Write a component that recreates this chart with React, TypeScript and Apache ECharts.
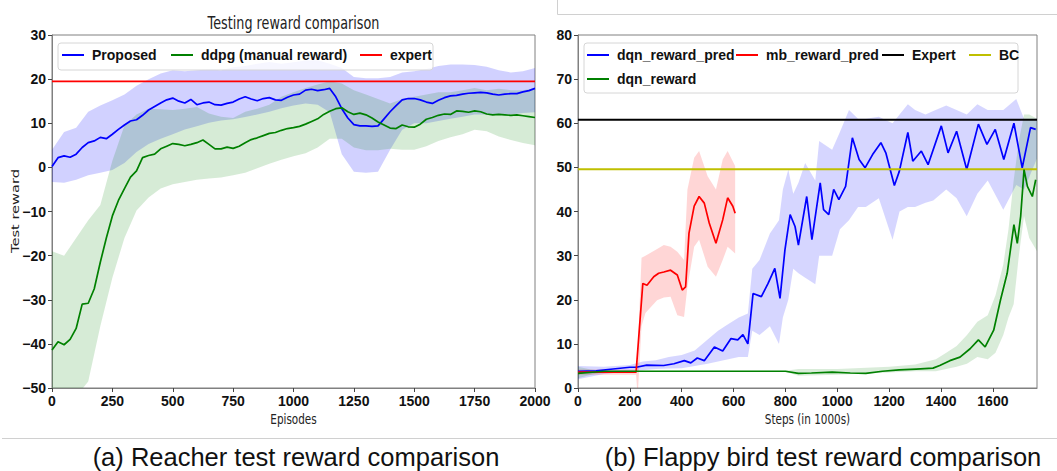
import React, { useEffect, useRef } from "react";
import * as echarts from "echarts";

// ---------- Left chart: Reacher ----------
const leftEpisodes = [0, 25, 50, 75, 100, 125, 150, 175, 200, 225, 250, 275, 300, 325, 350, 375, 400, 425, 450, 475, 500, 525, 550, 575, 600, 625, 650, 675, 700, 725, 750, 775, 800, 825, 850, 875, 900, 925, 950, 975, 1000, 1025, 1050, 1075, 1100, 1125, 1150, 1175, 1200, 1225, 1250, 1275, 1300, 1325, 1350, 1375, 1400, 1425, 1450, 1475, 1500, 1525, 1550, 1575, 1600, 1625, 1650, 1675, 1700, 1725, 1750, 1775, 1800, 1825, 1850, 1875, 1900, 1925, 1950, 1975, 2000];
const proposedReward = [0.2, 2.2, 2.6, 2.3, 3, 4.5, 5.6, 6, 6.8, 6.5, 7.5, 8.6, 9.6, 10.5, 10.8, 11.8, 13, 13.8, 14.6, 15.3, 15.7, 15, 14.6, 15.4, 14.2, 14.6, 14.8, 14.2, 14.1, 14.5, 14.8, 15.5, 16, 15.5, 15.1, 15.6, 15.8, 15.3, 15.2, 15.9, 16.4, 16.6, 17.5, 17.7, 17.4, 17.6, 17.9, 16, 13.3, 11.2, 9.7, 9.4, 9.4, 9.3, 9.4, 11, 12.6, 14, 15.3, 15.6, 15.6, 15.3, 14.8, 14.5, 15.2, 15.8, 16.2, 16.3, 16.6, 16.8, 16.9, 17.0, 16.9, 16.6, 16.4, 16.6, 16.7, 16.7, 17.1, 17.4, 17.9];
const ddpgReward = [-41.4, -39.5, -40.2, -39, -36.5, -31, -30.8, -27.5, -21.5, -16, -11, -7.5, -4.8, -2.2, -0.8, 2.2, 2.7, 3, 4.2, 4.8, 5.4, 5.2, 4.9, 5.2, 5.6, 6.2, 5.2, 4.2, 4.2, 4.6, 4.3, 4.8, 5.6, 6.3, 6.7, 7.2, 7.7, 7.9, 8.4, 8.8, 9.0, 9.3, 9.8, 10.4, 11, 12, 12.7, 13.3, 13.5, 12.6, 12.0, 12.3, 11.9, 11.2, 10.3, 9.6, 8.9, 8.8, 9.6, 9.2, 9.1, 9.8, 10.9, 11.3, 11.8, 12.1, 12.0, 12.8, 12.7, 12.5, 12.8, 12.6, 12.1, 11.9, 12.0, 11.9, 11.8, 11.9, 11.7, 11.5, 11.3];
const expertReacher = 19.5;

const leftBandEpisodes = [0, 50, 100, 150, 200, 250, 300, 350, 400, 450, 500, 550, 600, 650, 700, 750, 800, 850, 900, 950, 1000, 1050, 1100, 1150, 1200, 1250, 1300, 1350, 1400, 1450, 1500, 1550, 1600, 1650, 1700, 1750, 1800, 1850, 1900, 1950, 2000];
const proposedUpper = [4, 8, 9, 12.6, 14, 15.2, 16.5, 18.5, 20, 21.3, 22, 21.8, 22, 22.2, 22, 22.7, 23, 23.5, 23.9, 23.5, 23.8, 24.2, 24.3, 23.5, 22.5, 20.5, 20.2, 20.2, 20.5, 21.5, 21.8, 22.3, 23, 23.3, 23.3, 23.2, 22.8, 22, 21.5, 21.8, 22.5];
const proposedLower = [-3.3, -3.5, -2.8, -1.8, -1.2, -0.6, 1, 3.5, 5.3, 6.5, 7.5, 8.6, 9.3, 10.1, 10.6, 10.9, 11.4, 12, 12.6, 13.4, 14, 14.5, 14.2, 12.5, 3, -1, -1.2, -1, 4, 8.5, 10, 10, 10.5, 11, 11.5, 12, 12, 12, 12, 12.3, 12.5];
const ddpgUpper = [-19, -20, -16, -12, -8.5, 1.5, 9.5, 12, 13.3, 13.2, 13, 13.3, 13.7, 12.2, 11.5, 11.2, 12.6, 13.3, 14.2, 16, 17, 18, 18.8, 19.5, 19, 17.5, 16.5, 15.5, 14.5, 15.5, 16, 16.5, 17, 17, 17.5, 18, 17.5, 17.8, 17.5, 17.5, 18];
const ddpgLower = [-52, -52, -52, -48.5, -36, -25, -16, -9.8, -6.8, -4.8, -3.8, -3.3, -2.8, -2.5, -2.3, -1.8, -1.2, -0.2, 0.8, 1.7, 2.5, 3.2, 4.5, 6.5, 6.5, 4.5, 3.9, 3.9, 4.2, 4, 4, 4.8, 6, 6.8, 7.5, 8.5, 8.2, 7, 6.2, 5.5, 5];

// ---------- Right chart: Flappy bird ----------
const dqnPredSteps = [0, 70, 135, 200, 225, 265, 330, 370, 410, 435, 460, 487, 526, 558, 590, 616, 636, 655, 675, 707, 733, 759, 779, 798, 818, 837, 850, 882, 902, 934, 947, 967, 986, 1006, 1032, 1058, 1084, 1107, 1136, 1168, 1187, 1220, 1239, 1272, 1291, 1324, 1350, 1401, 1427, 1460, 1499, 1544, 1577, 1609, 1642, 1681, 1713, 1745, 1765];
const dqnPredValues = [3.8, 3.9, 4.3, 4.7, 4.7, 5.2, 5.1, 5.5, 6.2, 5.7, 6.8, 6.2, 9.3, 8.4, 11.2, 10.9, 12.1, 10.0, 21.4, 20.7, 23.7, 27.1, 20.3, 31.3, 39.3, 36.6, 32.4, 43.4, 33.6, 46.5, 40.4, 39.3, 45.0, 42.7, 45.7, 56.7, 51.8, 49.9, 52.9, 55.6, 53.3, 45.9, 49.1, 57.9, 51.4, 53.7, 50.6, 59.4, 53.3, 58.2, 49.5, 59.8, 55.2, 58.6, 51.8, 60.0, 49.9, 59.0, 58.6];
const dqnPredBandSteps = [0, 100, 200, 250, 300, 350, 400, 450, 500, 540, 580, 620, 655, 672, 700, 740, 775, 790, 811, 830, 850, 876, 915, 930, 980, 1010, 1045, 1080, 1110, 1160, 1213, 1240, 1272, 1300, 1340, 1370, 1420, 1460, 1499, 1540, 1580, 1640, 1690, 1720, 1770];
const dqnPredUpper = [5, 4.8, 5.2, 6, 6.3, 7, 7.5, 8.5, 11, 13, 14.5, 16, 16.9, 27, 29, 35, 38, 45, 49.5, 44, 46.5, 51, 47, 56, 54, 58, 63, 61, 61, 61.5, 60, 62, 64.3, 63, 62, 62.8, 64, 63, 62, 64.3, 63, 63, 65.5, 61, 61];
const dqnPredLower = [2, 3.2, 3.8, 4, 4.3, 4.4, 4.5, 5, 5.5, 6, 6.5, 7, 7, 13, 12, 14, 10, 16, 20, 27, 26, 25, 23.5, 30, 30, 36, 38, 41, 41, 43, 33.6, 40, 41, 41, 42, 42.5, 45, 43, 38.9, 44, 47, 40.4, 46, 45, 52];

const mbSteps = [0, 224, 250, 266, 292, 311, 331, 357, 383, 402, 415, 428, 448, 467, 487, 506, 532, 558, 577, 597, 606];
const mbValues = [3.6, 3.6, 23.7, 23.3, 25.2, 26.0, 26.3, 26.7, 25.6, 22.2, 22.9, 35.1, 41.2, 43.4, 41.9, 37.4, 32.8, 38.1, 43.1, 41.2, 39.6];
const mbBandSteps = [0, 224, 230, 245, 260, 305, 331, 357, 383, 409, 422, 448, 467, 500, 532, 558, 577, 606];
const mbUpper = [4.2, 4.2, 8, 29.5, 30, 31.5, 32.4, 32, 30.9, 29, 45, 52.2, 53.7, 48, 45, 51.8, 53.7, 50.3];
const mbLower = [3.0, 3.0, -2, 14, 17, 19.9, 20.5, 20.7, 16.5, 16.1, 22.9, 32, 33.6, 27.5, 25.2, 29, 32, 30.5];

const dqnRewardSteps = [0, 100, 200, 300, 400, 500, 600, 700, 800, 850, 900, 980, 1050, 1110, 1174, 1239, 1304, 1369, 1395, 1434, 1473, 1512, 1544, 1570, 1603, 1629, 1655, 1681, 1694, 1707, 1720, 1733, 1752, 1765];
const dqnRewardValues = [3.3, 3.8, 3.8, 3.8, 3.8, 3.8, 3.8, 3.8, 3.8, 3.3, 3.4, 3.6, 3.4, 3.3, 3.8, 4.1, 4.3, 4.5, 5.1, 6.2, 7.0, 8.9, 10.9, 9.3, 13.1, 19.9, 26.0, 37.0, 32.8, 38.9, 49.5, 45.7, 43.4, 47.2];
const dqnRewardBandSteps = [0, 50, 100, 800, 850, 1000, 1200, 1300, 1380, 1420, 1460, 1500, 1540, 1580, 1610, 1640, 1660, 1680, 1700, 1720, 1740, 1770];
const dqnRewardUpper = [4.8, 4.2, 3.9, 3.9, 4.3, 4.3, 4.8, 5.3, 6.5, 8, 9.5, 12, 15, 16.5, 21, 28, 36, 47, 56, 62, 62, 61];
const dqnRewardLower = [2.2, 3.0, 3.7, 3.7, 2.8, 3.0, 3.5, 3.8, 3.8, 4.3, 4.8, 5.5, 7, 6.5, 8, 12, 16, 19, 30, 39, 34, 31];

const expertFlappy = 60.8;
const bcFlappy = 49.6;

const leftTicks = { min: -50, max: 30, interval: 10 };
const rightTicks = { min: 0, max: 80, interval: 10 };

const LIB = "'Liberation Sans', Arial, sans-serif";
const DEJAVU = "'DejaVu Sans', sans-serif";
const SQUISH = 0.73;

const fmt = (v: number) => (v < 0 ? "\u2212" + Math.abs(v) : String(v));

function band(xs: number[], lo: number[], hi: number[], fill: string, xi: number) {
  const data = xs.map((x, i) => [x, lo[i], hi[i]]);
  return {
    type: "custom",
    xAxisIndex: xi,
    yAxisIndex: xi,
    silent: true,
    z: 1,
    data,
    encode: { x: 0, y: [1, 2] },
    renderItem: (params: any, api: any) => {
      if (params.dataIndex !== 0) return null;
      const top = data.map((d) => api.coord([d[0], d[2]]));
      const bot = data.map((d) => api.coord([d[0], d[1]])).reverse();
      const cs = params.coordSys;
      return {
        type: "polygon",
        shape: { points: top.concat(bot) },
        style: { fill },
        clipPath: { type: "rect", shape: { x: cs.x, y: cs.y, width: cs.width, height: cs.height } },
      };
    },
  };
}

function line(name: string, xs: number[], ys: number[], color: string, xi: number, width = 1.7) {
  return {
    type: "line",
    name,
    xAxisIndex: xi,
    yAxisIndex: xi,
    data: xs.map((x, i) => [x, ys[i]]),
    showSymbol: false,
    symbol: "none",
    silent: true,
    z: 3,
    lineStyle: { color, width },
    itemStyle: { color },
  };
}

function legendItem(name: string, left: number, top: number) {
  return {
    data: [name],
    left,
    top,
    padding: 0,
    itemWidth: 22,
    itemHeight: 2,
    icon: "rect",
    selectedMode: false,
    z: 6,
    textStyle: { fontFamily: LIB, fontWeight: "bold", fontSize: 14, lineHeight: 16, color: "#111", padding: [0, 0, 0, 3] },
  };
}

const tickLabel = { fontFamily: LIB, fontWeight: "bold", fontSize: 14, color: "#111", formatter: fmt };

function xAxis(gi: number, max: number, interval: number, showMax: boolean) {
  return {
    type: "value",
    gridIndex: gi,
    min: 0,
    max,
    interval,
    axisLine: { show: true, onZero: false, lineStyle: { color: "#808080", width: 1 } },
    axisTick: { show: true, length: 4, lineStyle: { color: "#444" } },
    axisLabel: { ...tickLabel, margin: 6, showMaxLabel: showMax },
    splitLine: { show: false },
  };
}

function yAxis(gi: number, t: { min: number; max: number; interval: number }) {
  return {
    type: "value",
    gridIndex: gi,
    min: t.min,
    max: t.max,
    interval: t.interval,
    axisLine: { show: true, onZero: false, lineStyle: { color: "#808080", width: 1 } },
    axisTick: { show: true, length: 4, lineStyle: { color: "#444" } },
    axisLabel: { ...tickLabel, margin: 6 },
    splitLine: { show: false },
  };
}

function sqText(text: string, x: number, y: number, fontSize: number, extra: any = {}) {
  return {
    type: "text",
    x,
    y,
    scaleX: SQUISH,
    z: 10,
    style: { text, fontFamily: DEJAVU, fontSize, fill: "#222", align: "center", verticalAlign: "middle" },
    ...extra,
  };
}

export default function App() {
  const ref = useRef<HTMLDivElement>(null);
  useEffect(() => {
    if (!ref.current) return;
    const chart = echarts.init(ref.current, undefined, { renderer: "svg" });
    const option: any = {
      animation: false,
      backgroundColor: "#fff",
      grid: [
        { left: 52, top: 35, width: 483, height: 353, show: true, borderColor: "#808080", borderWidth: 1, backgroundColor: "transparent" },
        { left: 578, top: 35, width: 459, height: 353, show: true, borderColor: "#808080", borderWidth: 1, backgroundColor: "transparent" },
      ],
      xAxis: [xAxis(0, 2000, 250, true), xAxis(1, 1770, 200, false)],
      yAxis: [yAxis(0, leftTicks), yAxis(1, rightTicks)],
      legend: [
        legendItem("Proposed", 62, 47),
        legendItem("ddpg (manual reward)", 171, 47),
        legendItem("expert", 360, 47),
        legendItem("dqn_reward_pred", 587, 47),
        legendItem("mb_reward_pred", 736, 47),
        legendItem("Expert", 882, 47),
        legendItem("BC", 969, 47),
        legendItem("dqn_reward", 587, 71),
      ],
      series: [
        band(leftBandEpisodes, proposedLower, proposedUpper, "rgba(0,0,255,0.18)", 0),
        band(leftBandEpisodes, ddpgLower, ddpgUpper, "rgba(0,128,0,0.16)", 0),
        line("Proposed", leftEpisodes, proposedReward, "#0000ff", 0),
        line("ddpg (manual reward)", leftEpisodes, ddpgReward, "#008000", 0),
        line("expert", [0, 2000], [expertReacher, expertReacher], "#ff0000", 0, 1.8),
        band(dqnPredBandSteps, dqnPredLower, dqnPredUpper, "rgba(0,0,255,0.16)", 1),
        band(mbBandSteps, mbLower, mbUpper, "rgba(255,0,0,0.16)", 1),
        band(dqnRewardBandSteps, dqnRewardLower, dqnRewardUpper, "rgba(0,128,0,0.15)", 1),
        line("dqn_reward_pred", dqnPredSteps, dqnPredValues, "#0000ff", 1),
        line("mb_reward_pred", mbSteps, mbValues, "#ff0000", 1),
        line("Expert", [0, 1770], [expertFlappy, expertFlappy], "#000000", 1, 2),
        line("BC", [0, 1770], [bcFlappy, bcFlappy], "#bfbf00", 1, 2),
        line("dqn_reward", dqnRewardSteps, dqnRewardValues, "#008000", 1),
      ],
      graphic: [
        { type: "rect", z: 5, shape: { x: 58, y: 43, width: 375, height: 27, r: 3 }, style: { fill: "rgba(255,255,255,0.8)", stroke: "#d6d6d6", lineWidth: 1 } },
        { type: "rect", z: 5, shape: { x: 584, y: 43, width: 434, height: 50, r: 3 }, style: { fill: "rgba(255,255,255,0.8)", stroke: "#d6d6d6", lineWidth: 1 } },
        sqText("Testing reward comparison", 293.5, 23, 17.5),
        sqText("Episodes", 293.5, 419, 14.3),
        sqText("Steps (in 1000s)", 807.5, 419, 14.3),
        {
          type: "text",
          x: 15,
          y: 211,
          rotation: Math.PI / 2,
          scaleY: SQUISH,
          z: 10,
          style: { text: "Test reward", fontFamily: DEJAVU, fontSize: 14.6, fill: "#222", align: "center", verticalAlign: "middle" },
        },
        { type: "line", z: 10, shape: { x1: 2, y1: 438.5, x2: 1057, y2: 438.5 }, style: { stroke: "#d0d0d0", lineWidth: 1 } },
        { type: "polyline", z: 10, shape: { points: [[557.5, 0], [557.5, 14.5], [1057, 14.5]] }, style: { stroke: "#d0d0d0", lineWidth: 1, fill: null } },
        {
          type: "text",
          x: 296,
          y: 457,
          z: 10,
          style: { text: "(a) Reacher test reward comparison", fontFamily: LIB, fontSize: 25.5, fill: "#111", align: "center", verticalAlign: "middle" },
        },
        {
          type: "text",
          x: 823,
          y: 457,
          z: 10,
          style: { text: "(b) Flappy bird test reward comparison", fontFamily: LIB, fontSize: 25.5, fill: "#111", align: "center", verticalAlign: "middle" },
        },
      ],
    };
    chart.setOption(option);
    return () => chart.dispose();
  }, []);
  return <div ref={ref} style={{ position: "fixed", left: 0, top: 0, width: 1057, height: 471, background: "#fff" }} />;
}
